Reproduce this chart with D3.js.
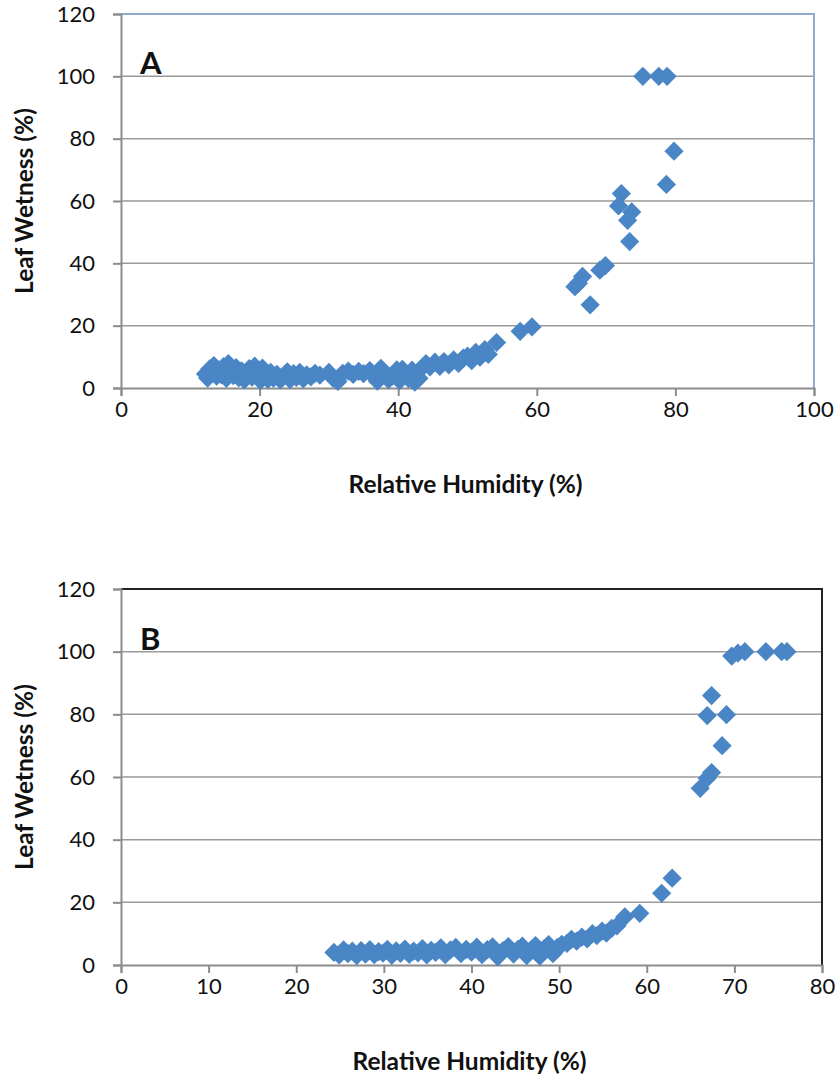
<!DOCTYPE html>
<html>
<head>
<meta charset="utf-8">
<script src="https://cdn.jsdelivr.net/npm/d3@7"></script>
<style>
  body { margin: 0; background: #fff; }
  svg text { font-family: Lato, "Open Sans", sans-serif; fill: #111; }
</style>
</head>
<body>
<svg id="chart" width="838" height="1078"></svg>
<script>
// panel A: [relative humidity, leaf wetness]
const dataA = [
  [12.2,4.5],[12.5,3.2],[12.8,6.1],[13.1,5.0],[13.4,7.2],[13.8,3.8],[14.1,5.8],[14.5,4.2],[14.8,6.9],[15.2,3.1],
  [15.5,7.8],[15.9,5.2],[16.2,4.0],[16.6,6.5],[17.0,3.3],[17.4,5.5],[17.8,2.6],[18.1,4.6],[18.5,6.2],[18.9,3.5],
  [19.3,7.0],[19.7,5.1],[20.1,2.4],[20.4,6.4],[20.8,4.1],[21.2,2.8],[21.6,5.0],[22.0,3.2],[22.5,4.4],[23.0,2.6],
  [23.5,3.9],[24.0,5.2],[24.4,2.7],[24.9,4.6],[25.3,3.4],[25.8,5.0],[26.3,2.9],[26.8,4.2],[27.4,3.6],[28.0,4.7],
  [28.7,4.1],[30.0,5.0],[30.6,3.2],[31.3,2.1],[32.0,4.7],[32.8,5.4],[33.5,4.4],[34.3,5.3],[35.0,4.6],[35.9,5.6],
  [36.6,3.5],[37.0,2.2],[37.5,6.3],[38.0,4.6],[38.6,2.7],[39.2,3.8],[39.8,5.8],[40.2,2.4],[40.6,6.0],[41.0,4.2],
  [41.5,3.0],[42.0,5.7],[42.4,1.9],[43.0,3.1],[43.4,6.4],[44.0,7.8],[44.6,6.8],[45.3,8.3],[46.0,6.9],[46.6,8.5],
  [47.3,7.4],[48.0,9.0],[48.7,7.9],[49.4,9.6],[50.0,10.2],[50.6,8.8],[51.2,11.4],[51.8,9.9],[52.5,12.3],[53.0,10.8],
  [54.2,14.6],[57.6,18.2],[59.3,19.6],[65.5,32.5],[66.0,33.6],[66.6,35.8],[67.7,26.7],[69.1,37.8],[69.9,39.3],
  [71.8,58.4],[72.2,62.4],[73.1,53.8],[73.4,47.0],[73.7,56.5],[75.3,100],[77.6,100],[78.8,100],[78.7,65.3],[79.8,76]
];

// panel B
const dataB = [
  [24.3,4.0],[24.9,3.2],[25.4,4.8],[25.9,3.6],[26.4,4.4],[26.9,3.0],[27.4,4.6],[27.9,3.5],[28.4,4.9],[28.9,3.3],
  [29.4,4.3],[29.9,3.8],[30.4,5.0],[30.9,3.1],[31.4,4.5],[31.9,3.7],[32.4,5.1],[32.9,3.4],[33.4,4.4],[33.9,3.9],
  [34.4,5.2],[34.9,3.2],[35.4,4.7],[35.9,4.0],[36.5,5.5],[37.0,3.3],[37.6,4.8],[38.2,5.6],[38.8,3.6],[39.4,5.0],
  [40.0,4.1],[40.6,5.7],[41.2,3.3],[41.8,4.9],[42.4,5.8],[43.0,2.6],[43.6,4.6],[44.2,5.9],[44.8,3.5],[45.3,5.0],
  [45.8,6.0],[46.3,3.0],[46.8,4.8],[47.3,6.2],[47.8,2.8],[48.3,5.2],[48.8,6.5],[49.3,3.6],[49.8,5.6],[50.3,6.6],
  [50.9,6.9],[51.4,8.2],[52.0,7.6],[52.6,8.9],[53.2,8.3],[53.8,10.0],[54.3,9.4],[54.9,10.8],[55.4,10.2],[56.0,11.7],
  [56.6,12.5],[57.5,15.4],[59.2,16.5],[61.7,22.9],[62.9,27.7],[66.1,56.4],[66.9,59.6],[67.4,61.4],[68.6,70],
  [66.9,79.6],[69.1,79.9],[67.4,86],[69.7,98.6],[70.4,99.5],[71.2,100],[73.6,100],[75.4,100],[76.0,100]
];

const yTicks = [0, 20, 40, 60, 80, 100, 120];
const xTicksA = [0, 20, 40, 60, 80, 100];
const xTicksB = [0, 10, 20, 30, 40, 50, 60, 70, 80];

const xLabel = "Relative Humidity (%)";
const yLabel = "Leaf Wetness (%)";

const svg = d3.select("#chart");
const markColor = "#4a86c6";
const diamond = d3.symbol().type(d3.symbolSquare).size(185);

function drawPanel(opt) {
  const g = svg.append("g");
  const x = d3.scaleLinear().domain([0, opt.xMax]).range([opt.left, opt.right]);
  const y = d3.scaleLinear().domain([0, 120]).range([opt.bottom, opt.top]);

  // gridlines
  g.selectAll(".grid").data(yTicks.slice(1, -1)).join("line")
    .attr("x1", opt.left).attr("x2", opt.right)
    .attr("y1", d => y(d)).attr("y2", d => y(d))
    .attr("stroke", "#9a9a9a").attr("stroke-width", 1.5);

  // frame top/right
  g.append("path")
    .attr("d", `M${opt.left},${opt.top}H${opt.right}V${opt.bottom}`)
    .attr("fill", "none").attr("stroke", opt.frame).attr("stroke-width", 2);

  // axes
  const ya = g.append("g").attr("transform", `translate(${opt.left},0)`)
    .call(d3.axisLeft(y).tickValues(yTicks).tickSize(8).tickPadding(18));
  const xa = g.append("g").attr("transform", `translate(0,${opt.bottom})`)
    .call(d3.axisBottom(x).tickValues(opt.xTicks).tickSize(8).tickPadding(5));
  [ya, xa].forEach(a => {
    a.select(".domain").attr("stroke", "#8c8c8c").attr("stroke-width", 2);
    a.selectAll(".tick line").attr("stroke", "#8c8c8c").attr("stroke-width", 2);
    a.selectAll("text").attr("font-size", 22).attr("font-family", "Lato, sans-serif").attr("fill", "#111");
  });

  // markers
  g.selectAll(".pt").data(opt.data).join("path")
    .attr("d", diamond)
    .attr("transform", d => `translate(${x(d[0])},${y(d[1])}) rotate(45)`)
    .attr("fill", markColor);

  // panel letter
  g.append("text").attr("x", opt.left + 19).attr("y", y(100) - 2)
    .attr("font-size", 31).attr("font-weight", "bold").text(opt.letter);

  // axis titles
  g.append("text").attr("x", (opt.left + opt.right) / 2 - 2).attr("y", opt.bottom + 105)
    .attr("text-anchor", "middle").attr("font-size", 24.5).attr("font-weight", "bold").text(xLabel);
  g.append("text")
    .attr("transform", `translate(33,${(opt.top + opt.bottom) / 2}) rotate(-90)`)
    .attr("text-anchor", "middle").attr("font-size", 24.5).attr("font-weight", "bold").text(yLabel);
}

drawPanel({ data: dataA, xMax: 100, xTicks: xTicksA, left: 121, right: 814, top: 14, bottom: 388, frame: "#8faacb", letter: "A" });
drawPanel({ data: dataB, xMax: 80, xTicks: xTicksB, left: 121, right: 822, top: 589, bottom: 965, frame: "#222", letter: "B" });
</script>
</body>
</html>
